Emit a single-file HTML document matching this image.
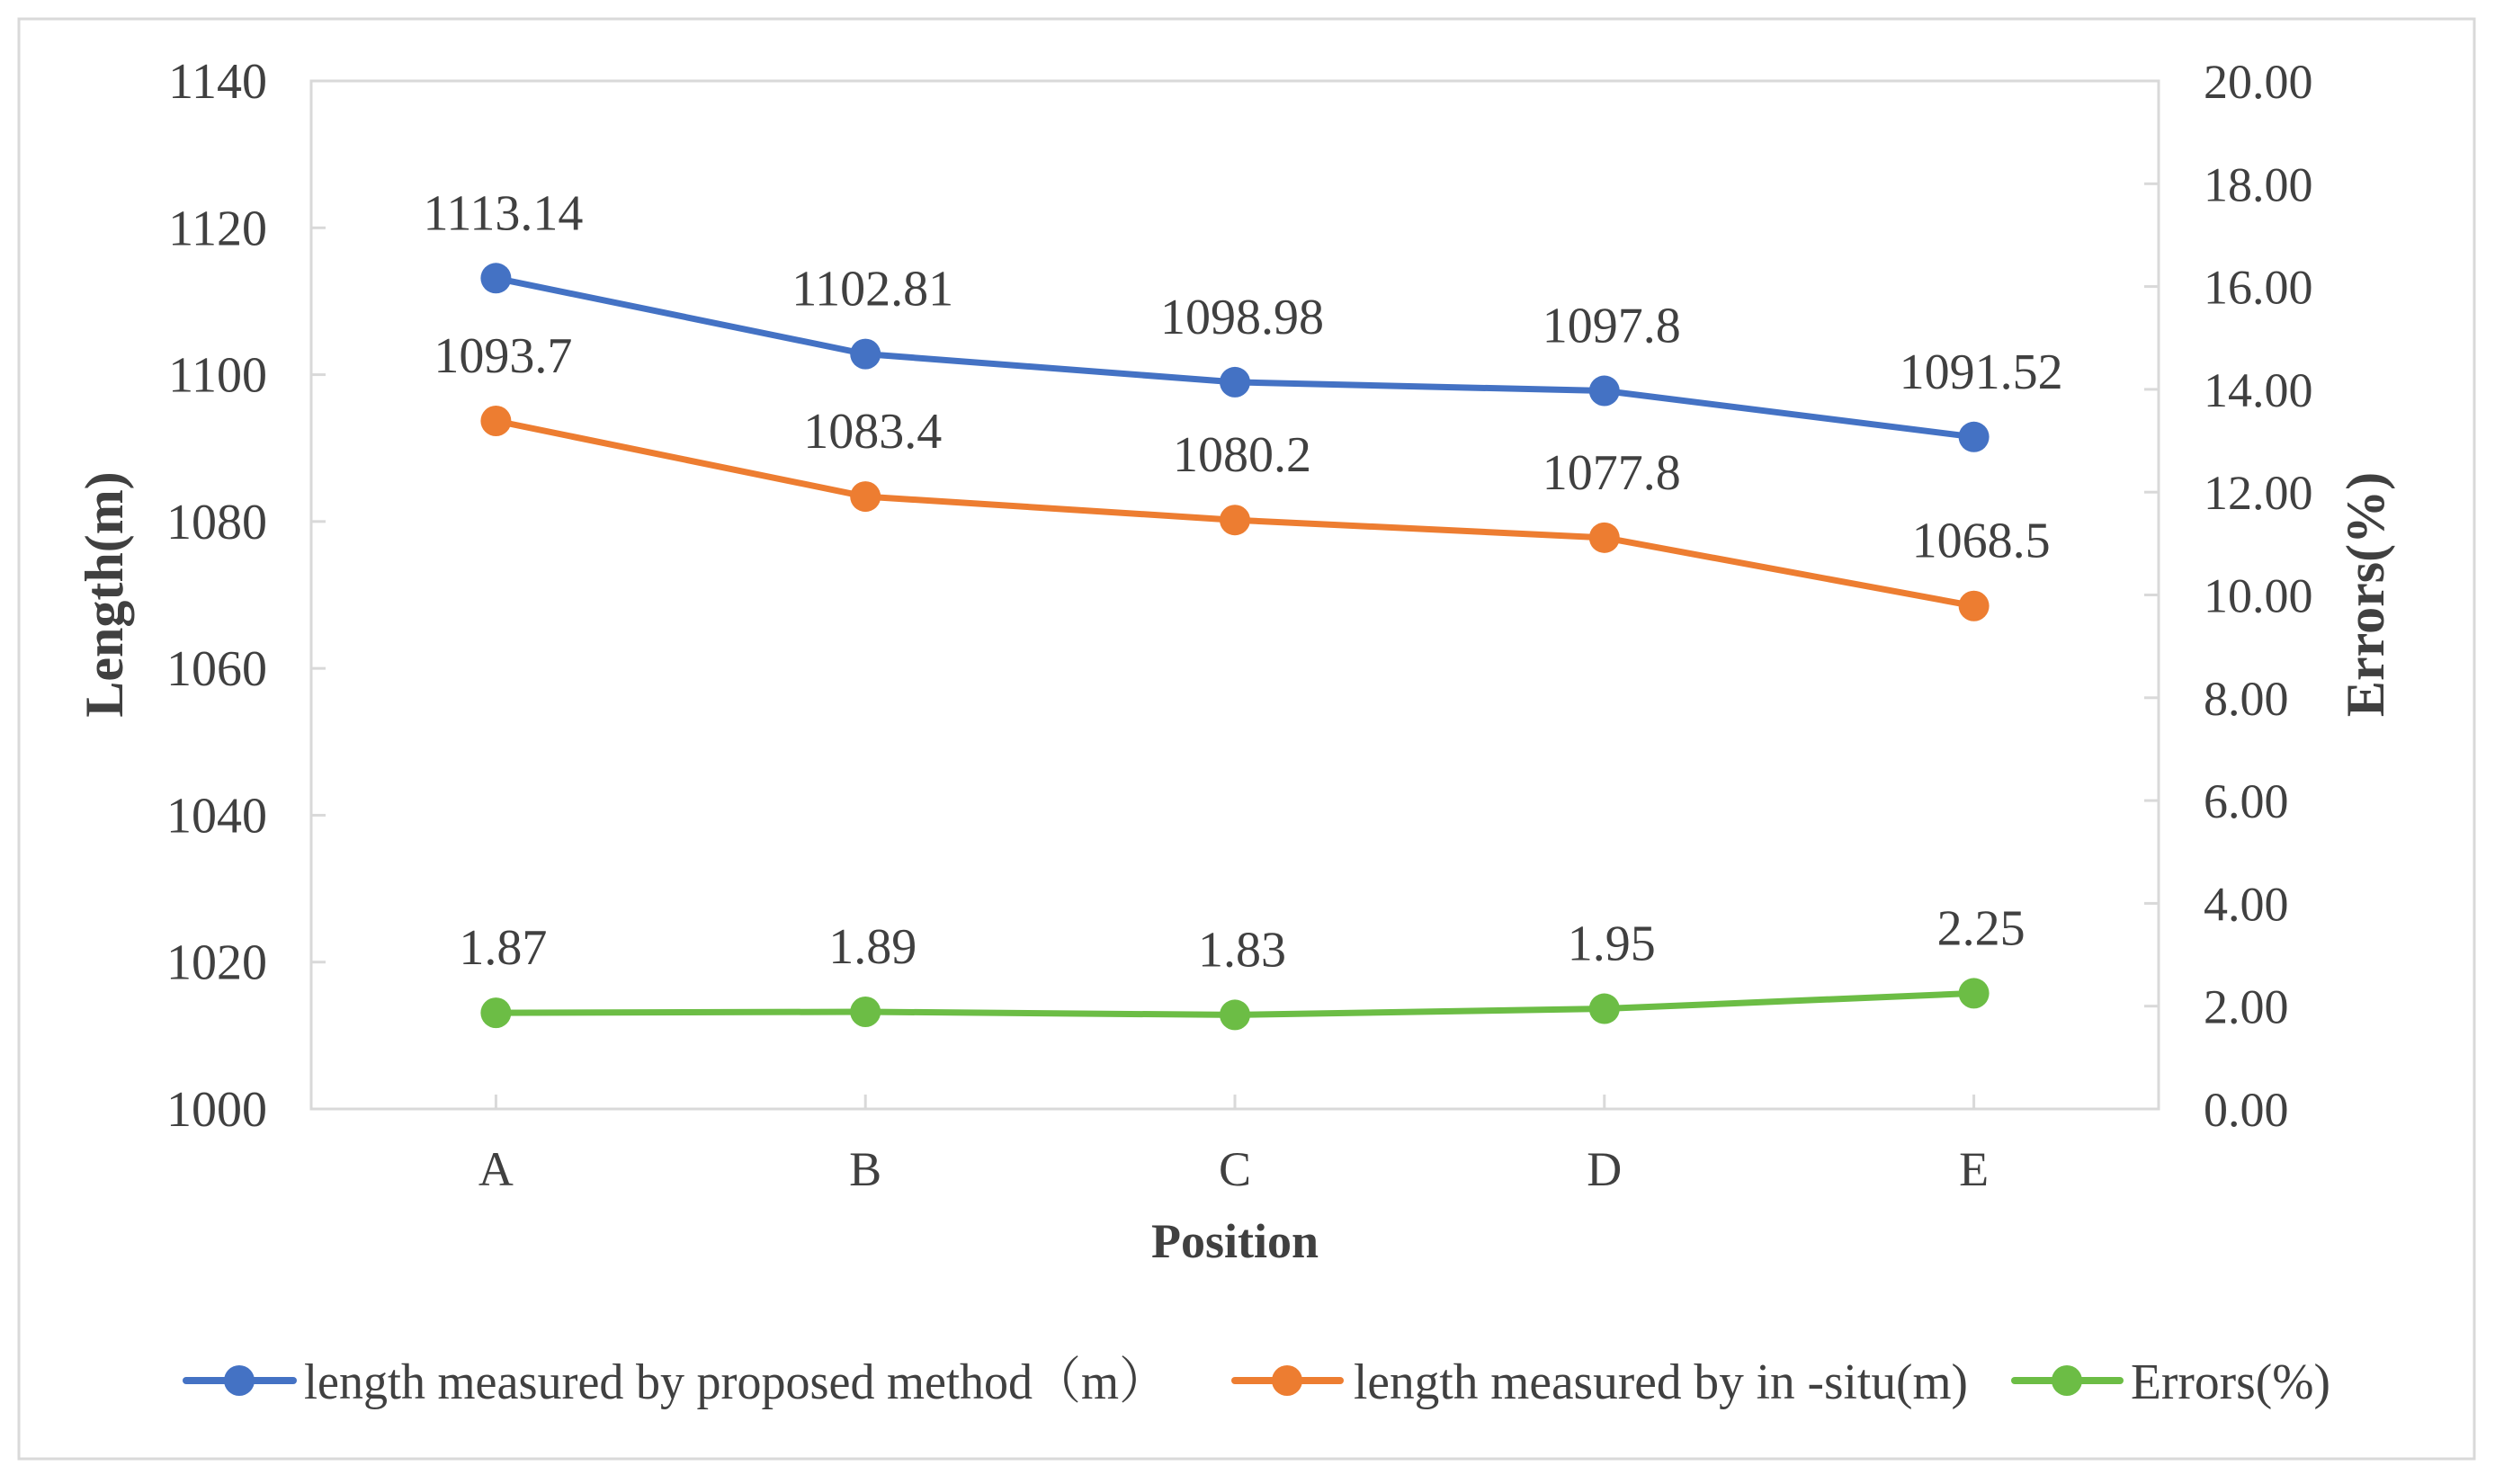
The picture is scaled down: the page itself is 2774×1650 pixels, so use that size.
<!DOCTYPE html>
<html><head><meta charset="utf-8"><style>
html,body{margin:0;padding:0;background:#fff;}
svg text{font-family:"Liberation Serif","Noto Serif CJK SC",serif;fill:#404040;}
</style></head><body>
<svg width="2774" height="1645" viewBox="0 0 2774 1645" xmlns="http://www.w3.org/2000/svg">
<rect x="21" y="21" width="2730" height="1601" fill="#fff" stroke="#d9d9d9" stroke-width="3"/>
<rect x="346" y="90" width="2054" height="1143" fill="none" stroke="#d9d9d9" stroke-width="3"/>
<g id="axes"></g>
<g id="series"></g>
<text x="136" y="661" font-size="60" font-weight="bold" text-anchor="middle" transform="rotate(-90 136 661)">Length(m)</text>
<text x="2650" y="661" font-size="60" font-weight="bold" text-anchor="middle" transform="rotate(-90 2650 661)">Errors(%)</text>
<text x="1373" y="1398" font-size="54" font-weight="bold" text-anchor="middle">Position</text>
<g>
<g>
<line x1="207" y1="1535" x2="326" y2="1535" stroke="#4472C4" stroke-width="8" stroke-linecap="round"/>
<circle cx="266" cy="1535" r="17" fill="#4472C4"/>
<text x="338" y="1555" font-size="56" textLength="960" lengthAdjust="spacingAndGlyphs">length measured by proposed method（m）</text></g>
<g>
<line x1="1373" y1="1535" x2="1490" y2="1535" stroke="#ED7D31" stroke-width="8" stroke-linecap="round"/>
<circle cx="1431" cy="1535" r="17" fill="#ED7D31"/>
<text x="1505" y="1555" font-size="56" textLength="683" lengthAdjust="spacingAndGlyphs">length measured by in -situ(m)</text></g>
<g>
<line x1="2240" y1="1535" x2="2357" y2="1535" stroke="#6CBD45" stroke-width="8" stroke-linecap="round"/>
<circle cx="2298" cy="1535" r="17" fill="#6CBD45"/>
<text x="2369" y="1555" font-size="56" textLength="222" lengthAdjust="spacingAndGlyphs">Errors(%)</text></g>
</g>
</svg>
<script>
const categories=['A','B','C','D','E'];
const proposed=[1113.14,1102.81,1098.98,1097.8,1091.52];
const insitu=[1093.7,1083.4,1080.2,1077.8,1068.5];
const errors=[1.87,1.89,1.83,1.95,2.25];
const leftTicks=[1000,1020,1040,1060,1080,1100,1120,1140];
const rightTicks=[0,2,4,6,8,10,12,14,16,18,20];
const NS='http://www.w3.org/2000/svg';
const L=346,R=2400,T=90,B=1233;
const yL=v=>B-(v-1000)/140*(B-T);
const yR=v=>B-v/20*(B-T);
const xC=i=>L+(i+0.5)*(R-L)/categories.length;
function mk(tag,attrs,parent){const e=document.createElementNS(NS,tag);for(const k in attrs)e.setAttribute(k,attrs[k]);parent.appendChild(e);return e;}
const axes=document.getElementById('axes');
leftTicks.forEach(v=>{
  const y=yL(v);
  const t=mk('line',{x1:L,x2:L+16,y1:y,y2:y,stroke:'#d9d9d9','stroke-width':3},axes);
  
  
  const tx=mk('text',{x:297,y:y+19,'font-size':56,'text-anchor':'end'},axes);
  tx.textContent=v;
  
  
});
rightTicks.forEach(v=>{
  const y=yR(v);
  const t=mk('line',{x1:R-16,x2:R,y1:y,y2:y,stroke:'#d9d9d9','stroke-width':3},axes);
  
  
  const tx=mk('text',{x:2450,y:y+19,'font-size':54},axes);
  tx.textContent=v.toFixed(2);
  
  
});
categories.forEach((c,i)=>{
  const x=xC(i);
  const t=mk('line',{x1:x,x2:x,y1:B-16,y2:B,stroke:'#d9d9d9','stroke-width':3},axes);
  
  
  const tx=mk('text',{x:x,y:1318,'font-size':54,'text-anchor':'middle'},axes);
  tx.textContent=c;
  
  
});
const sg=document.getElementById('series');
function drawSeries(vals,yf,color,name,fmt){
  const g=mk('g',{},sg);
  
  
  const pts=vals.map((v,i)=>xC(i)+','+yf(v)).join(' ');
  const pl=mk('polyline',{points:pts,fill:'none',stroke:color,'stroke-width':7,'stroke-linejoin':'round'},g);
  
  
  vals.forEach((v,i)=>{
    const c=mk('circle',{cx:xC(i),cy:yf(v),r:17,fill:color},g);
    
    
    const t=mk('text',{x:xC(i)+8,y:yf(v)-54,'font-size':56,'text-anchor':'middle'},g);
    t.textContent=fmt(v);
    
    
  });
}
drawSeries(proposed,yL,'#4472C4','proposed',v=>String(v));
drawSeries(insitu,yL,'#ED7D31','insitu',v=>String(v));
drawSeries(errors,yR,'#6CBD45','errors',v=>v.toFixed(2));
</script>
</body></html>
